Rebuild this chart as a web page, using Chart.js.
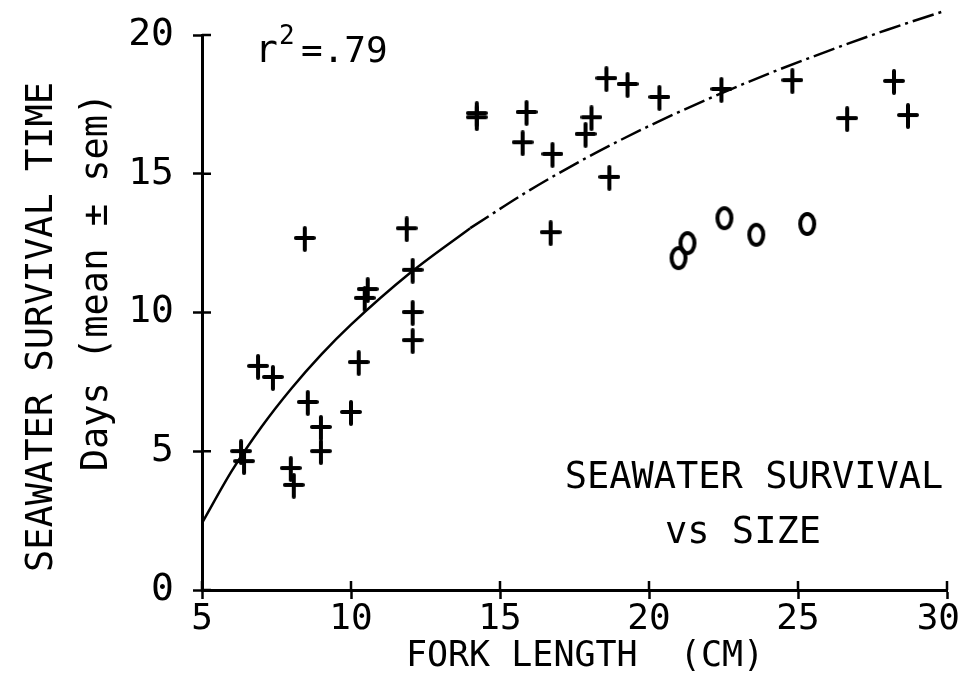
<!DOCTYPE html>
<html>
<head>
<meta charset="utf-8">
<script src="https://cdn.jsdelivr.net/npm/chart.js@4.4.0/dist/chart.umd.min.js"></script>
<style>
    html, body { margin: 0; padding: 0; background: #fff; }
</style>
</head>
<body>
<canvas id="chart" width="962" height="677"></canvas>
<script>
/* Fork length (cm) vs seawater survival time (days) */
const plusX = [6.31, 6.41, 6.88, 7.38, 7.98, 8.08, 8.45, 8.55, 8.99, 8.99,
               10.0, 10.26, 10.46, 10.56, 11.87, 12.07, 12.07, 12.07, 14.22, 14.22,
               15.76, 15.89, 16.70, 16.76, 17.87, 18.07, 18.57, 18.67, 19.28, 20.35,
               22.43, 24.81, 26.65, 28.22, 28.69];
const plusY = [4.97, 4.61, 8.04, 7.64, 4.36, 3.75, 12.65, 6.74, 5.84, 4.97,
               6.38, 8.18, 10.49, 10.81, 13.0, 11.5, 9.98, 8.97, 17.0, 17.15,
               16.1, 17.19, 12.86, 15.68, 16.4, 17.0, 18.41, 14.85, 18.2, 17.73,
               18.02, 18.34, 16.97, 18.31, 17.08];

/* Second group, plotted as "o" */
const circleX = [20.99, 21.29, 22.53, 23.60, 25.31];
const circleY = [11.96, 12.5, 13.4, 12.8, 13.19];

/* Fitted curve: solid part, then dash-dot part */
const fitSolidX = [5, 6, 7, 8, 9, 10, 12, 14];
const fitSolidY = [2.41, 4.29, 5.88, 7.26, 8.48, 9.56, 11.44, 13.04];
const fitDashX = [14, 16, 18, 20, 22, 24, 26, 28, 29.9];
const fitDashY = [13.04, 14.41, 15.63, 16.72, 17.70, 18.60, 19.42, 20.19, 20.86];

const xTicks = [5, 10, 15, 20, 25, 30];
const yTicks = [0, 5, 10, 15, 20];

const FONT = '"DejaVu Sans Mono", monospace';
const INK = "#000";

const zip = (xs, ys) => xs.map((x, i) => ({ x, y: ys[i] }));

/* Plotter-style markers */
function plusMarker() {
    const c = document.createElement("canvas");
    c.width = 22; c.height = 26;
    const g = c.getContext("2d");
    g.strokeStyle = INK; g.lineWidth = 4; g.lineCap = "round";
    g.beginPath();
    g.moveTo(11, 2); g.lineTo(11, 24);
    g.moveTo(2, 12); g.lineTo(20, 12);
    g.stroke();
    return c;
}

function circleMarker() {
    const c = document.createElement("canvas");
    c.width = 22; c.height = 28;
    const g = c.getContext("2d");
    g.strokeStyle = INK; g.lineWidth = 4;
    g.beginPath();
    g.ellipse(11, 14, 7, 10, 0, 0, Math.PI * 2);
    g.stroke();
    return c;
}

/* Crossing tick marks, x tick labels (kept inside the canvas) and text */
const plotterMarks = {
    id: "plotterMarks",
    beforeDraw(chart) {
        const ctx = chart.ctx;
        ctx.save();
        ctx.fillStyle = "#fff";
        ctx.fillRect(0, 0, chart.width, chart.height);
        ctx.restore();
    },
    afterDraw(chart) {
        const ctx = chart.ctx;
        const xs = chart.scales.x, ys = chart.scales.y;
        const area = chart.chartArea;
        ctx.save();
        ctx.strokeStyle = INK;
        ctx.lineWidth = 2.5;
        ctx.beginPath();
        xTicks.forEach(v => {
            const px = xs.getPixelForValue(v);
            ctx.moveTo(px, area.bottom);
            ctx.lineTo(px, area.bottom - 9);
        });
        yTicks.forEach(v => {
            const py = ys.getPixelForValue(v);
            ctx.moveTo(area.left, py);
            ctx.lineTo(area.left + 9, py);
        });
        ctx.stroke();

        ctx.fillStyle = INK;
        ctx.textAlign = "center";
        ctx.textBaseline = "middle";
        ctx.font = `36px ${FONT}`;
        for (const v of xTicks) {
            const label = v.toString();
            const half = ctx.measureText(label).width / 2;
            const px = Math.min(xs.getPixelForValue(v), chart.width - half - 2);
            ctx.fillText(label, px, 620);
        }

        ctx.textBaseline = "alphabetic";
        ctx.textAlign = "left";
        ctx.font = `38px ${FONT}`;
        ctx.fillText("r", 255, 62);
        ctx.font = `26px ${FONT}`;
        ctx.fillText("2", 279, 44);
        ctx.font = `36px ${FONT}`;
        ctx.fillText("=.79", 301, 62);

        ctx.textAlign = "center";
        ctx.textBaseline = "middle";
        ctx.font = `37px ${FONT}`;
        ctx.fillText("SEAWATER SURVIVAL", 754, 478);
        ctx.fillText("vs SIZE", 743, 533);
        ctx.font = `35px ${FONT}`;
        ctx.fillText("FORK LENGTH  (CM)", 585, 657);

        /* y axis title, two lines */
        ctx.font = `37px ${FONT}`;
        ctx.translate(42, 327);
        ctx.rotate(-Math.PI / 2);
        ctx.fillText("SEAWATER SURVIVAL TIME", 0, 0);
        ctx.rotate(Math.PI / 2);
        ctx.translate(55, -45);
        ctx.rotate(-Math.PI / 2);
        ctx.fillText("Days (mean \u00b1 sem)", 0, 0);
        ctx.restore();
    },
};

new Chart(document.getElementById("chart"), {
    type: "scatter",
    data: {
        datasets: [
            {
                type: "line",
                data: zip(fitSolidX, fitSolidY),
                borderColor: INK,
                borderWidth: 2.5,
                pointRadius: 0,
                cubicInterpolationMode: "monotone",
                clip: false,
            },
            {
                type: "line",
                data: zip(fitDashX, fitDashY),
                borderColor: INK,
                borderWidth: 2.5,
                borderDash: [22, 5, 3, 5],
                pointRadius: 0,
                cubicInterpolationMode: "monotone",
                clip: false,
            },
            {
                data: zip(plusX, plusY),
                pointStyle: plusMarker(),
                clip: false,
            },
            {
                data: zip(circleX, circleY),
                pointStyle: circleMarker(),
                clip: false,
            },
        ],
    },
    options: {
        responsive: false,
        animation: false,
        events: [],
        layout: { padding: { top: 35, right: 15, left: 0, bottom: 0 } },
        plugins: {
            legend: { display: false },
            tooltip: { enabled: false },
        },
        scales: {
            x: {
                type: "linear",
                min: 5,
                max: 30,
                afterFit: s => { s.height = 87; s.paddingLeft = 0; s.paddingRight = 0; },
                afterBuildTicks: s => { s.ticks = xTicks.map(v => ({ value: v })); },
                border: { display: true, color: INK, width: 3 },
                grid: { drawOnChartArea: false, drawTicks: true, tickLength: 9, tickWidth: 2.5, tickColor: INK },
                ticks: { display: false },
            },
            y: {
                type: "linear",
                min: 0,
                max: 20,
                afterFit: s => { s.width = 202; s.paddingTop = 0; s.paddingBottom = 0; },
                afterBuildTicks: s => { s.ticks = yTicks.map(v => ({ value: v })); },
                border: { display: true, color: INK, width: 3 },
                grid: { drawOnChartArea: false, drawTicks: true, tickLength: 9, tickWidth: 2.5, tickColor: INK },
                ticks: { color: INK, font: { family: FONT, size: 38 }, padding: 19 },
            },
        },
    },
    plugins: [plotterMarks],
});
</script>
</body>
</html>
